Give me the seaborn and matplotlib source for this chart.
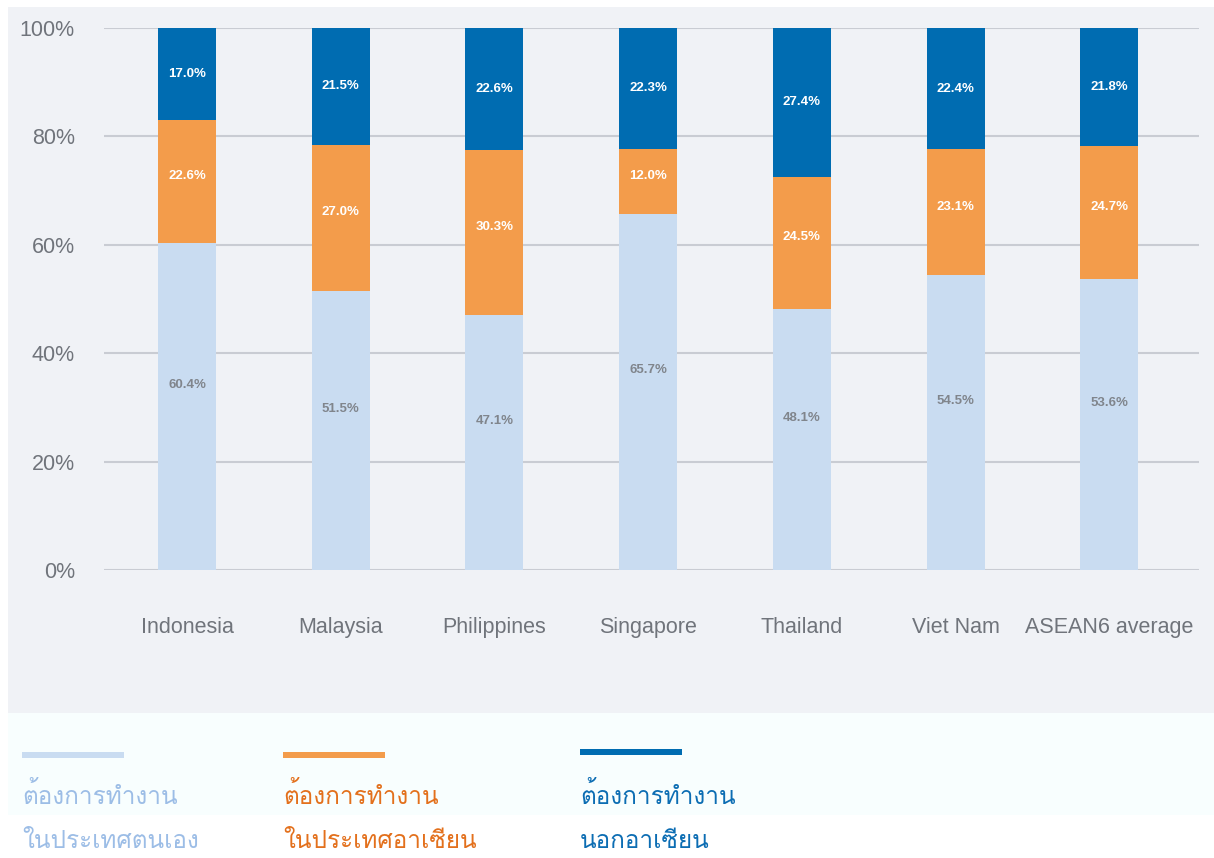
import matplotlib
matplotlib.use("Agg")
import matplotlib.pyplot as plt
from matplotlib import font_manager, ft2font
from matplotlib.patches import Rectangle
import numpy as np
import seaborn as sns

# data
countries = ['Indonesia', 'Malaysia', 'Philippines', 'Singapore', 'Thailand', 'Viet Nam', 'ASEAN6 average']
home = [60.4, 51.5, 47.1, 65.7, 48.1, 54.5, 53.6]
asean = [22.6, 27.0, 30.3, 12.0, 24.5, 23.1, 24.7]
outside = [17.0, 21.5, 22.6, 22.3, 27.4, 22.4, 21.8]
series_names = ['ต้องการทำงาน\nในประเทศตนเอง', 'ต้องการทำงาน\nในประเทศอาเซียน', 'ต้องการทำงาน\nนอกอาเซียน']

c_home = '#c9dcf1'
c_asean = '#f39c4b'
c_out = '#006cb1'
text_cols = ['#9cbde6', '#e3701c', '#0c6db3']

sns.set_theme(style='white')
plt.rcParams['font.family'] = ['Liberation Sans', 'DejaVu Sans']

# find any installed font with Thai glyphs
thai_font = None
for f in font_manager.fontManager.ttflist:
    try:
        if 0x0E01 in ft2font.FT2Font(f.fname).get_charmap():
            thai_font = f.name
            break
    except Exception:
        pass
thai_family = [thai_font, 'DejaVu Sans'] if thai_font else ['DejaVu Sans']

fig = plt.figure(figsize=(12.14, 8.58), dpi=100)
fig.patch.set_facecolor('white')
W, H = 1214, 858
# chart panel and legend panel backgrounds
fig.add_artist(Rectangle((8 / W, 1 - 713 / H), 1, (713 - 7) / H, transform=fig.transFigure,
                         facecolor='#f0f2f6', edgecolor='none', zorder=-10))
fig.add_artist(Rectangle((8 / W, 1 - 815 / H), 1, (815 - 713) / H, transform=fig.transFigure,
                         facecolor='#f8fefe', edgecolor='none', zorder=-10))

ax = fig.add_axes([104 / W, 1 - 570 / H, (1199 - 104) / W, (570 - 28) / H])
ax.set_facecolor('none')

bottom2 = np.array(home)
bottom3 = bottom2 + np.array(asean)
top_vals = np.minimum(np.array(outside), 100 - bottom3)

bar_kw = dict(width=0.377, saturation=1, linewidth=0, ax=ax, zorder=3)
sns.barplot(x=countries, y=home, color=c_home, **bar_kw)
sns.barplot(x=countries, y=asean, bottom=bottom2, color=c_asean, **bar_kw)
sns.barplot(x=countries, y=top_vals, bottom=bottom3, color=c_out, **bar_kw)

for i in range(len(countries)):
    ax.text(i, home[i] / 2 + 4, f'{home[i]:.1f}%', ha='center', va='center',
            fontsize=9.5, fontweight='bold', color='#80858c', zorder=5)
    ax.text(i, bottom2[i] + asean[i] / 2 + 1, f'{asean[i]:.1f}%', ha='center', va='center',
            fontsize=9.5, fontweight='bold', color='white', zorder=5)
    ax.text(i, bottom3[i] + top_vals[i] / 2, f'{outside[i]:.1f}%', ha='center', va='center',
            fontsize=9.5, fontweight='bold', color='white', zorder=5)

ax.set_ylim(0, 100)
ax.set_xlim(-0.54, 6.584)
ax.set_yticks([0, 20, 40, 60, 80, 100])
ax.set_yticklabels([f'{v}%' for v in [0, 20, 40, 60, 80, 100]])
ax.yaxis.grid(True, color='#c9ccd3', linewidth=1.5, zorder=0)
ax.set_axisbelow(True)
ax.tick_params(axis='y', length=0, pad=21, labelsize=15.5, labelcolor='#70747b')
ax.tick_params(axis='x', length=0, pad=34, labelsize=15.5, labelcolor='#70747b')
for s in ax.spines.values():
    s.set_visible(False)
ax.set_xlabel('')
ax.set_ylabel('')

# legend drawn by hand under the chart
leg_x = [22, 283, 580]
leg_y = [755, 755, 752]
for k, (name, col) in enumerate(zip(series_names, [c_home, c_asean, c_out])):
    x0 = leg_x[k] / W
    fig.add_artist(Rectangle((x0, 1 - (leg_y[k] + 3) / H), 102 / W, 6 / H,
                             transform=fig.transFigure, facecolor=col, edgecolor='none'))
    lines = name.split('\n')
    fig.text(x0, 1 - 795 / H, lines[0], ha='left', va='center', fontsize=17.5,
             color=text_cols[k], family=thai_family)
    fig.text(x0, 1 - 841 / H, lines[1], ha='left', va='center', fontsize=17.5,
             color=text_cols[k], family=thai_family)

fig.savefig('out.png', dpi=100)
